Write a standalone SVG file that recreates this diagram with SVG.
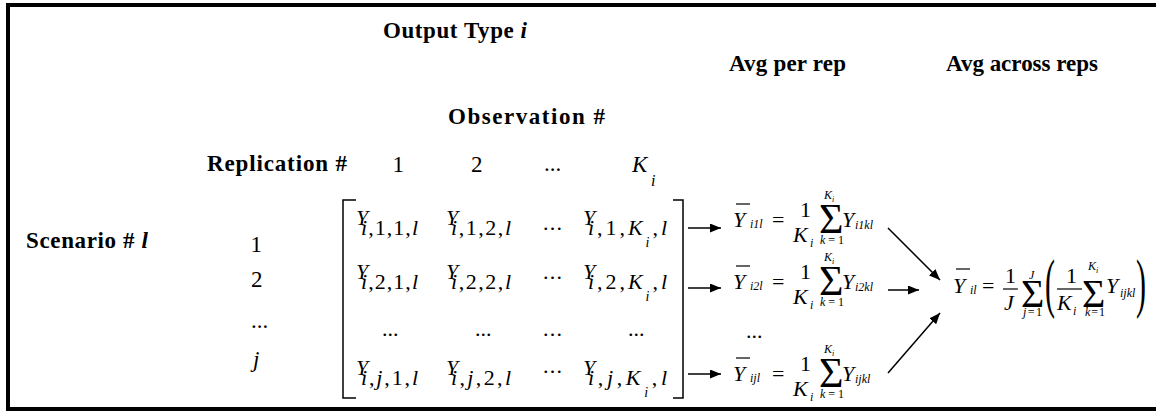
<svg xmlns="http://www.w3.org/2000/svg" width="1156" height="413" viewBox="0 0 1156 413">
<defs>
<style>
text{font-family:"Liberation Serif","Times New Roman",serif;fill:#000}
.h{font-size:23px;font-weight:bold}
.n{font-size:23px}
.m{font-size:22px}
.it{font-style:italic}
.sm{font-size:12px}
.xs{font-size:8px}
.sig{font-size:42px}
.sig2{font-size:40px}
.par{font-size:30px}
.bar{stroke:#000;stroke-width:1.2}
.br{fill:none;stroke:#000;stroke-width:1.5}
.con{stroke:#000;stroke-width:1.5;fill:none;marker-end:url(#ah)}
</style>
<marker id="ah" markerUnits="userSpaceOnUse" markerWidth="11" markerHeight="9" refX="11" refY="4.5" orient="auto"><path d="M0,0 L11,4.5 L0,9 z" fill="#000"/></marker>
</defs>
<rect x="0" y="0" width="1156" height="413" fill="#fff"/>
<path id="frame" d="M1160,5 H8 V409 H1160" fill="none" stroke="#000" stroke-width="4"/>

<g id="headers">
<text class="h" x="383" y="38" textLength="144" lengthAdjust="spacing">Output Type <tspan class="it">i</tspan></text>
<text class="h" x="729" y="71" textLength="117" lengthAdjust="spacing">Avg per rep</text>
<text class="h" x="946" y="71" textLength="152" lengthAdjust="spacing">Avg across reps</text>
<text class="h" x="448" y="124" textLength="157" lengthAdjust="spacing">Observation #</text>
<text class="h" x="207" y="171" textLength="140" lengthAdjust="spacing">Replication #</text>
<text class="h" x="26" y="248" textLength="122" lengthAdjust="spacing">Scenario # <tspan class="it">l</tspan></text>
</g>

<g id="col-labels">
<text class="n" x="392.5" y="172">1</text>
<text class="n" x="471" y="172">2</text>
<text class="n" x="544" y="171">...</text>
<text class="n it" x="632" y="172">K</text>
<text class="it" font-size="16" x="651" y="186">i</text>
</g>

<g id="row-labels">
<text class="n" x="250.5" y="252">1</text>
<text class="n" x="251" y="287">2</text>
<text class="n" x="251" y="328">...</text>
<text class="n it" x="253" y="367">j</text>
</g>

<g id="matrix">
<path class="br" d="M356,200 H343 V398 H356"/>
<path class="br" d="M673,200 H683 V398 H673"/>
<!-- row 1 -->
<text class="m it" x="356" y="225">Y</text>
<text class="m" x="361" y="235" textLength="57" lengthAdjust="spacing"><tspan class="it">i</tspan>,1,1,<tspan class="it">l</tspan></text>
<text class="m it" x="446" y="225">Y</text>
<text class="m" x="451" y="235" textLength="60" lengthAdjust="spacing"><tspan class="it">i</tspan>,1,2,<tspan class="it">l</tspan></text>
<text class="m" x="543" y="230" font-size="18" textLength="19" lengthAdjust="spacing">...</text>
<text class="m it" x="583" y="225">Y</text>
<text class="m" x="588" y="235" textLength="79" lengthAdjust="spacing"><tspan class="it">i</tspan>,1,<tspan class="it">K</tspan><tspan class="it" font-size="14" dy="12">i</tspan><tspan dy="-12">,</tspan><tspan class="it">l</tspan></text>
<!-- row 2 -->
<text class="m it" x="356" y="279">Y</text>
<text class="m" x="361" y="289" textLength="57" lengthAdjust="spacing"><tspan class="it">i</tspan>,2,1,<tspan class="it">l</tspan></text>
<text class="m it" x="446" y="279">Y</text>
<text class="m" x="451" y="289" textLength="60" lengthAdjust="spacing"><tspan class="it">i</tspan>,2,2,<tspan class="it">l</tspan></text>
<text class="m" x="543" y="279" font-size="18" textLength="19" lengthAdjust="spacing">...</text>
<text class="m it" x="583" y="279">Y</text>
<text class="m" x="588" y="289" textLength="79" lengthAdjust="spacing"><tspan class="it">i</tspan>,2,<tspan class="it">K</tspan><tspan class="it" font-size="14" dy="12">i</tspan><tspan dy="-12">,</tspan><tspan class="it">l</tspan></text>
<!-- dots row -->
<text class="m" x="382" y="336">...</text>
<text class="m" x="475" y="336">...</text>
<text class="m" x="543" y="336" font-size="18" textLength="19" lengthAdjust="spacing">...</text>
<text class="m" x="628" y="336">...</text>
<!-- row j -->
<text class="m it" x="356" y="375">Y</text>
<text class="m" x="361" y="385" textLength="57" lengthAdjust="spacing"><tspan class="it">i</tspan>,<tspan class="it">j</tspan>,1,<tspan class="it">l</tspan></text>
<text class="m it" x="446" y="375">Y</text>
<text class="m" x="451" y="385" textLength="60" lengthAdjust="spacing"><tspan class="it">i</tspan>,<tspan class="it">j</tspan>,2,<tspan class="it">l</tspan></text>
<text class="m" x="543" y="373" font-size="18" textLength="19" lengthAdjust="spacing">...</text>
<text class="m it" x="583" y="375">Y</text>
<text class="m" x="588" y="385" textLength="79" lengthAdjust="spacing"><tspan class="it">i</tspan>,<tspan class="it">j</tspan>,<tspan class="it">K</tspan><tspan class="it" font-size="14" dy="12">i</tspan><tspan dy="-12">,</tspan><tspan class="it">l</tspan></text>
</g>

<g id="avg-rep-1">
<text class="m it" x="733" y="227">Y</text>
<line class="bar" x1="736" y1="204" x2="750" y2="204"/>
<text class="sm it" x="750" y="228">i1l</text>
<text class="m" x="772" y="227">=</text>
<text class="m" x="800" y="217">1</text>
<text class="m it" x="793" y="242">K</text>
<text class="sm it" x="810" y="247">i</text>
<text class="sig" x="819" y="233">Σ</text>
<text class="sm it" x="824" y="199">K</text><text class="xs it" x="832" y="202">i</text>
<text class="sm" x="820" y="244" textLength="24" lengthAdjust="spacing"><tspan class="it">k</tspan>=1</text>
<text class="m it" x="842" y="227">Y</text>
<text class="sm it" x="855" y="229">i1kl</text>
</g>

<g id="avg-rep-2" transform="translate(0,62)">
<text class="m it" x="733" y="227">Y</text>
<line class="bar" x1="736" y1="204" x2="750" y2="204"/>
<text class="sm it" x="750" y="228">i2l</text>
<text class="m" x="772" y="227">=</text>
<text class="m" x="800" y="217">1</text>
<text class="m it" x="793" y="242">K</text>
<text class="sm it" x="810" y="247">i</text>
<text class="sig" x="819" y="233">Σ</text>
<text class="sm it" x="824" y="199">K</text><text class="xs it" x="832" y="202">i</text>
<text class="sm" x="820" y="244" textLength="24" lengthAdjust="spacing"><tspan class="it">k</tspan>=1</text>
<text class="m it" x="842" y="227">Y</text>
<text class="sm it" x="855" y="229">i2kl</text>
</g>

<g id="avg-rep-dots">
<text class="m" x="746" y="338">...</text>
</g>

<g id="avg-rep-j" transform="translate(0,154)">
<text class="m it" x="733" y="227">Y</text>
<line class="bar" x1="736" y1="204" x2="750" y2="204"/>
<text class="sm it" x="750" y="228">ijl</text>
<text class="m" x="772" y="227">=</text>
<text class="m" x="800" y="217">1</text>
<text class="m it" x="793" y="242">K</text>
<text class="sm it" x="810" y="247">i</text>
<text class="sig" x="819" y="233">Σ</text>
<text class="sm it" x="824" y="199">K</text><text class="xs it" x="832" y="202">i</text>
<text class="sm" x="820" y="244" textLength="24" lengthAdjust="spacing"><tspan class="it">k</tspan>=1</text>
<text class="m it" x="842" y="227">Y</text>
<text class="sm it" x="855" y="229">ijkl</text>
</g>

<g id="avg-across">
<text class="m it" x="953" y="293">Y</text>
<line class="bar" x1="956" y1="269" x2="970" y2="269"/>
<text class="sm it" x="970" y="294">il</text>
<text class="m" x="982" y="293">=</text>
<text class="m" x="1005" y="283">1</text>
<line class="bar" x1="1003" y1="289" x2="1018" y2="289"/>
<text class="m it" x="1004" y="310">J</text>
<text class="sig2" x="1021" y="307">Σ</text>
<text class="sm it" x="1029" y="279">J</text>
<text class="sm" x="1023" y="316" textLength="19" lengthAdjust="spacing"><tspan class="it">j</tspan>=1</text>
<text class="par" transform="translate(1045,305) scale(1,2.2)" x="0" y="0">(</text>
<text class="m" x="1066" y="283">1</text>
<line class="bar" x1="1057" y1="289" x2="1082" y2="289"/>
<text class="m it" x="1057" y="310">K</text>
<text class="sm it" x="1073" y="315">i</text>
<text class="sig2" x="1082" y="307">Σ</text>
<text class="sm it" x="1088" y="270">K</text><text class="xs it" x="1096" y="273">i</text>
<text class="sm" x="1085" y="316" textLength="20" lengthAdjust="spacing"><tspan class="it">k</tspan>=1</text>
<text class="m it" x="1106" y="293">Y</text>
<text class="sm it" x="1120" y="297">ijkl</text>
<text class="par" transform="translate(1136,305) scale(1,2.2)" x="0" y="0">)</text>
</g>

<g id="connectors">
<line class="con" x1="688" y1="228" x2="721" y2="228"/>
<line class="con" x1="688" y1="288" x2="721" y2="288"/>
<line class="con" x1="688" y1="374" x2="721" y2="374"/>
<line class="con" x1="888" y1="228" x2="940" y2="280"/>
<line class="con" x1="888" y1="290" x2="919" y2="290"/>
<line class="con" x1="888" y1="373" x2="940" y2="313"/>
</g>
</svg>
